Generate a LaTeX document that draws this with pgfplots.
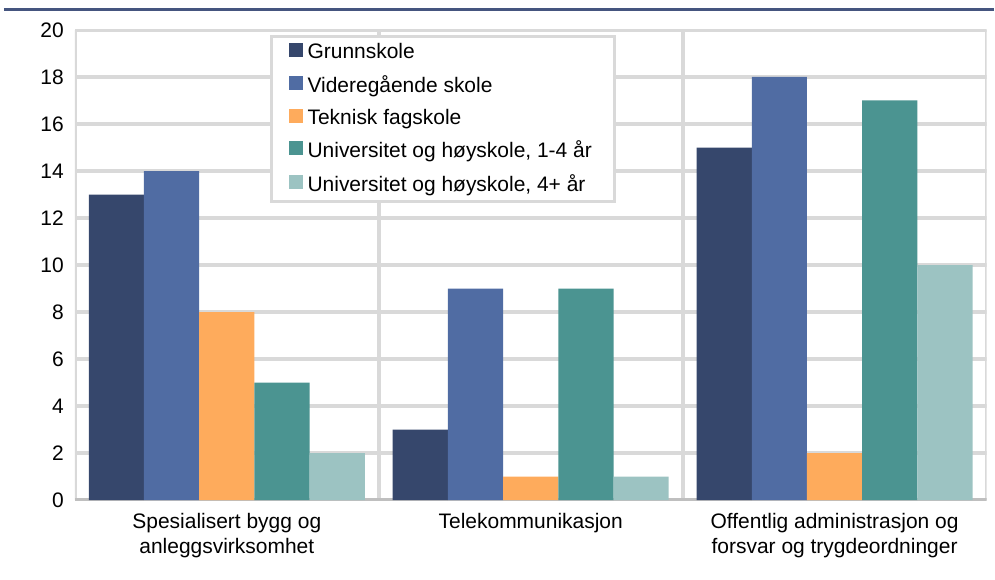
\documentclass[border=0pt]{standalone}
\usepackage{pgfplots}
\pgfplotsset{compat=1.18}
\usepackage{fontspec}
\setmainfont{Liberation Sans}
\definecolor{cA}{HTML}{36476C}
\definecolor{cB}{HTML}{506CA3}
\definecolor{cC}{HTML}{FEAB5C}
\definecolor{cD}{HTML}{4B9491}
\definecolor{cE}{HTML}{9CC3C2}
\definecolor{gridc}{HTML}{D9D9D9}
\definecolor{basec}{HTML}{BFBFBF}
\definecolor{rulec}{HTML}{45557F}
\begin{document}
\begin{tikzpicture}
\fontsize{21bp}{25bp}\selectfont
\begin{axis}[
  at={(75bp,79bp)}, anchor=south west,
  scale only axis,
  width=913bp, height=471bp,
  xmin=-0.5, xmax=2.5, ymin=0, ymax=20,
  ybar=0pt, bar width=55.3bp,
  xtick={0,1,2},
  xticklabels={{Spesialisert bygg og\\anleggsvirksomhet},{Telekommunikasjon},{Offentlig administrasjon og\\forsvar og trygdeordninger}},
  xticklabel style={align=center, font=\fontsize{21bp}{25bp}\selectfont, yshift=-6bp},
  ytick={0,2,...,20},
  yticklabel style={font=\fontsize{21bp}{25bp}\selectfont, xshift=-4bp},
  /pgf/number format/assume math mode=true,
  major tick length=0pt,
  axis line style={draw=none},
  legend cell align=left,
  legend style={at={(0.2136,0.989)}, anchor=north west, draw=gridc, line width=3bp,
    font=\fontsize{21bp}{25bp}\selectfont, row sep=9.5bp, inner xsep=18bp, inner ysep=5bp,
    nodes={inner xsep=4.5bp}},
  legend image code/.code={\fill[#1,draw=none] (0bp,-4.5bp) rectangle (14bp,9.5bp);},
]
\foreach \yy in {2,4,...,20} {\edef\tmp{\noexpand\draw[gridc, line width=4bp] (axis cs:-0.5,\yy) -- (axis cs:2.5,\yy);}\tmp}
\foreach \xx in {-0.5,0.5,1.5,2.5} {\edef\tmp{\noexpand\draw[gridc, line width=4bp] (axis cs:\xx,0) -- (axis cs:\xx,20);}\tmp}
\draw[basec, line width=4bp] (axis cs:-0.5,0) -- (axis cs:2.5,0);
\addplot[fill=cA, draw=none] coordinates {(0,13) (1,3) (2,15)};
\addplot[fill=cB, draw=none] coordinates {(0,14) (1,9) (2,18)};
\addplot[fill=cC, draw=none] coordinates {(0,8) (1,1) (2,2)};
\addplot[fill=cD, draw=none] coordinates {(0,5) (1,9) (2,17)};
\addplot[fill=cE, draw=none] coordinates {(0,2) (1,1) (2,10)};
\legend{Grunnskole, Videregående skole, Teknisk fagskole, {Universitet og høyskole, 1-4 år}, {Universitet og høyskole, 4+ år}}
\end{axis}
\draw[rulec, line width=3bp] (4bp,570bp) -- (995bp,570bp);
\useasboundingbox (0,0) rectangle (995bp,580bp);
\end{tikzpicture}
\end{document}
